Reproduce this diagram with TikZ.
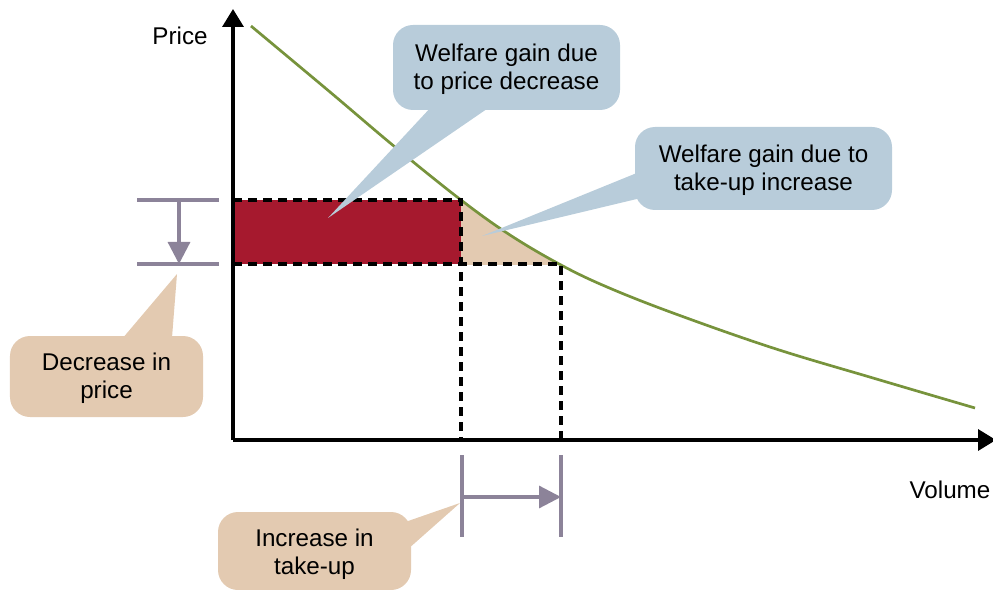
\documentclass[tikz,border=0pt]{standalone}
\usepackage{fontspec}
\setmainfont{Liberation Sans}
\usetikzlibrary{arrows.meta,calc}
\definecolor{wred}{HTML}{A6192E}
\definecolor{wbeige}{HTML}{E3CAB1}
\definecolor{wblue}{HTML}{B8CCDA}
\definecolor{wgreen}{HTML}{77933C}
\definecolor{wgray}{HTML}{8C8399}
\begin{document}
\begin{tikzpicture}[x=1bp,y=-1bp,
  lbl/.style={font=\fontsize{24.3}{28.5}\selectfont, inner sep=0pt, align=center, text=black},
  callbox/.style={inner sep=0pt, rounded corners=20bp},
  bluebox/.style={callbox, fill=wblue},
  beigebox/.style={callbox, fill=wbeige},
  axisline/.style={line width=3.4bp, -{Triangle[width=21bp,length=18bp]}},
  guide/.style={line width=3.3bp, dash pattern=on 9bp off 6bp},
  marker/.style={line width=3.2bp, draw=wgray},
  markarrow/.style={marker, -{Triangle[width=22bp,length=22bp]}, fill=wgray},
  demand/.style={line width=2.7bp, draw=wgreen}
]
\useasboundingbox (0,0) rectangle (993,590);

% coordinates
\coordinate (O) at (233,440);
\coordinate (ytop) at (233,9);
\coordinate (xend) at (996,440);
\coordinate (p1) at (233,200);
\coordinate (q1) at (461,200);
\coordinate (p2) at (233,264);
\coordinate (q2) at (561,264);
\coordinate (q1b) at (461,440);
\coordinate (q2b) at (561,440);

% red rectangle
\fill[wred] (p1) rectangle (q1 |- p2);

% beige triangle
\begin{scope}
  \clip (461,180) rectangle (561,264);
  \fill[wbeige] plot[smooth, tension=0.6] coordinates {(251,26) (330,92) (395,147) (461,200) (510,235) (561,265) (607,287) (673,313) (773,348) (873,378) (975,408)} -- (975,440) -- (251,440) -- cycle;
\end{scope}

% demand curve
\draw[demand] plot[smooth, tension=0.6] coordinates {(251,26) (330,92) (395,147) (461,200) (510,235) (561,265) (607,287) (673,313) (773,348) (873,378) (975,408)};

% dashed guides
\draw[guide] (p1) -- (q1) -- (q1b);
\draw[guide] (p2) -- (q2) -- (q2b);

% axes
\draw[axisline] (O) -- (ytop);
\draw[axisline] (O) -- (xend);
\node[lbl] (price) at (180,36) {Price};
\node[lbl] (volume) at (950,490) {Volume};

% decrease marker
\coordinate (da) at (137,200); \coordinate (db) at (219,200);
\coordinate (dc) at (137,264); \coordinate (dd) at (219,264);
\coordinate (dtop) at (179,200); \coordinate (dbot) at (179,264);
\draw[marker] (da) -- (db);
\draw[marker] (dc) -- (dd);
\draw[markarrow] (dtop) -- (dbot);

% increase marker
\coordinate (ia) at (462,455); \coordinate (ib) at (462,537);
\coordinate (ic) at (561,455); \coordinate (id) at (561,537);
\coordinate (il) at (462,497); \coordinate (ir) at (561,497);
\draw[marker] (ia) -- (ib);
\draw[marker] (ic) -- (id);
\draw[markarrow] (il) -- (ir);

% callout boxes
\node[bluebox, minimum width=227bp, minimum height=85bp] (w1) at (506.5,67.5) {};
\node[bluebox, minimum width=257bp, minimum height=83bp] (w2) at (763.5,168.5) {};
\node[beigebox, minimum width=193bp, minimum height=81bp] (dec) at (106.5,376.5) {};
\node[beigebox, minimum width=193bp, minimum height=78bp] (inc) at (314.5,551) {};

% callout tails
\coordinate (t1) at (328,218);
\coordinate (t2) at (482,236);
\coordinate (t3) at (177,274);
\coordinate (t4) at (460,503);
\fill[wblue] ($(w1.south)+(-76.5,-2)$) -- (t1) -- ($(w1.south)+(-18.5,-2)$) -- cycle;
\fill[wblue] ($(w2.west)+(2,4.5)$) -- (t2) -- ($(w2.west)+(2,30.5)$) -- cycle;
\fill[wbeige] ($(dec.north)+(16.5,2)$) -- (t3) -- ($(dec.north)+(65.5,2)$) -- cycle;
\fill[wbeige] ($(inc.east)+(-6,-29)$) -- (t4) -- ($(inc.east)+(-2,-3)$) -- cycle;

% callout texts
\node[lbl] (w1text) at (506.5,69.5) {Welfare gain due\\to price decrease};
\node[lbl] (w2text) at (763.5,170.5) {Welfare gain due to\\take-up increase};
\node[lbl] (dectext) at (106.5,378.5) {Decrease in\\price};
\node[lbl] (inctext) at (314.5,554) {Increase in\\take-up};
\end{tikzpicture}
\end{document}
